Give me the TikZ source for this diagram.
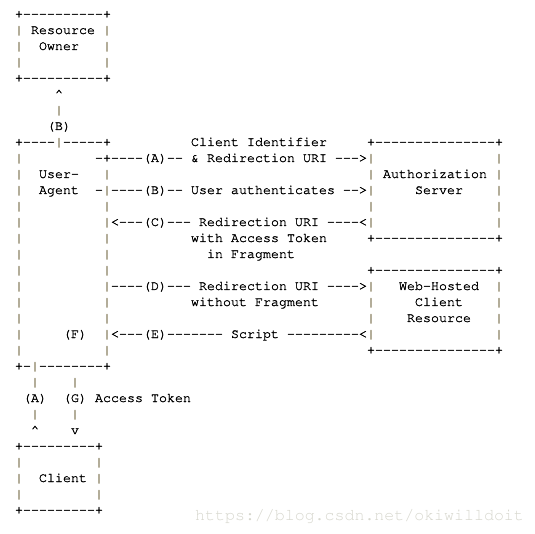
\documentclass[tikz,border=0pt]{standalone}
\usepackage[T1,TU]{fontenc}
\usepackage{xcolor}
\definecolor{pipecol}{RGB}{125,115,80}
\definecolor{markcol}{RGB}{215,215,206}
\newcommand\ascfont{\fontencoding{T1}\fontfamily{pcr}\fontseries{m}\fontshape{n}\fontsize{13.333}{16}\selectfont}
\newcommand\wmfont{\fontencoding{T1}\fontfamily{pcr}\fontseries{m}\fontshape{n}\fontsize{16.6}{18}\selectfont}
\newcommand\ascpipe{{\color{pipecol}|}}
\newcommand\boldon{\special{pdf:literal direct 2 Tr 0.2 w}}
\newcommand\boldoff{\special{pdf:literal direct 0 Tr}}
\ExplSyntaxOn
\tl_new:N \l_asc_tl
\NewDocumentCommand \asc { m }
  {
    \tl_set:Nn \l_asc_tl {#1}
    \tl_replace_all:Nnn \l_asc_tl { - } { - {} }
    \tl_replace_all:Nnn \l_asc_tl { | } { \ascpipe }
    \boldon \tl_use:N \l_asc_tl \boldoff
  }
\ExplSyntaxOff
\tikzset{asctxt/.style={anchor=base west,inner sep=0pt,outer sep=0pt,font=\ascfont,text=black}}
\newcommand\ascat[4]{\node[asctxt] (#1) at ({15+8*#3},{-18-16*(#2-1)}) {\asc{#4}};}
\begin{document}
\begin{tikzpicture}[x=1pt,y=1pt]
\fill[white] (0,0) rectangle (535,-534);
\useasboundingbox (0,0) rectangle (535,-534);
% Resource Owner
\ascat{r1}{1}{0}{+----------+}
\ascat{r2}{2}{0}{|~Resource~|}
\ascat{r3}{3}{0}{|~~Owner~~~|}
\ascat{r4}{4}{0}{|~~~~~~~~~~|}
\ascat{r5}{5}{0}{+----------+}
\ascat{r6}{6}{5}{\textasciicircum}
\ascat{r7}{7}{5}{|}
\ascat{r8}{8}{4}{(B)}
% User-Agent and servers
\ascat{r9a}{9}{0}{+----|-----+}
\ascat{r9b}{9}{22}{Client~Identifier}
\ascat{r9c}{9}{44}{+---------------+}
\ascat{r10a}{10}{0}{|}
\ascat{r10b}{10}{10}{-+----(A)--~\&~Redirection~URI~--->}
\ascat{r10c}{10}{44}{|~~~~~~~~~~~~~~~|}
\ascat{r11a}{11}{0}{|~~User-~~~|}
\ascat{r11c}{11}{44}{|~Authorization~|}
\ascat{r12a}{12}{0}{|~~Agent~~-|----(B)--~User~authenticates~-->}
\ascat{r12c}{12}{44}{|~~~~~Server~~~~|}
\ascat{r13a}{13}{0}{|~~~~~~~~~~|}
\ascat{r13c}{13}{44}{|~~~~~~~~~~~~~~~|}
\ascat{r14a}{14}{0}{|~~~~~~~~~~|<---(C)---~Redirection~URI~----<}
\ascat{r14c}{14}{44}{|~~~~~~~~~~~~~~~|}
\ascat{r15a}{15}{0}{|~~~~~~~~~~|}
\ascat{r15b}{15}{22}{with~Access~Token}
\ascat{r15c}{15}{44}{+---------------+}
\ascat{r16a}{16}{0}{|~~~~~~~~~~|}
\ascat{r16b}{16}{24}{in~Fragment}
\ascat{r17a}{17}{0}{|~~~~~~~~~~|}
\ascat{r17c}{17}{44}{+---------------+}
\ascat{r18a}{18}{0}{|~~~~~~~~~~|----(D)---~Redirection~URI~---->}
\ascat{r18c}{18}{44}{|~~~Web-Hosted~~|}
\ascat{r19a}{19}{0}{|~~~~~~~~~~|}
\ascat{r19b}{19}{22}{without~Fragment}
\ascat{r19c}{19}{44}{|~~~~~Client~~~~|}
\ascat{r20a}{20}{0}{|~~~~~~~~~~|}
\ascat{r20c}{20}{44}{|~~~~Resource~~~|}
\ascat{r21a}{21}{0}{|~~~~~(F)~~|<---(E)-------~Script~---------<}
\ascat{r21c}{21}{44}{|~~~~~~~~~~~~~~~|}
\ascat{r22a}{22}{0}{|~~~~~~~~~~|}
\ascat{r22c}{22}{44}{+---------------+}
\ascat{r23}{23}{0}{+-|--------+}
% Client
\ascat{r24a}{24}{2}{|}
\ascat{r24b}{24}{7}{|}
\ascat{r25a}{25}{1}{(A)}
\ascat{r25b}{25}{6}{(G)~Access~Token}
\ascat{r26a}{26}{2}{|}
\ascat{r26b}{26}{7}{|}
\ascat{r27a}{27}{2}{\textasciicircum}
\ascat{r27b}{27}{7}{v}
\ascat{r28}{28}{0}{+---------+}
\ascat{r29}{29}{0}{|~~~~~~~~~|}
\ascat{r30}{30}{0}{|~~Client~|}
\ascat{r31}{31}{0}{|~~~~~~~~~|}
\ascat{r32}{32}{0}{+---------+}
% watermark
\node[anchor=base west,inner sep=0pt,font=\wmfont,text=markcol] (wm) at (195,-520) {https://blog.csdn.net/okiwilldoit};
\end{tikzpicture}
\end{document}
